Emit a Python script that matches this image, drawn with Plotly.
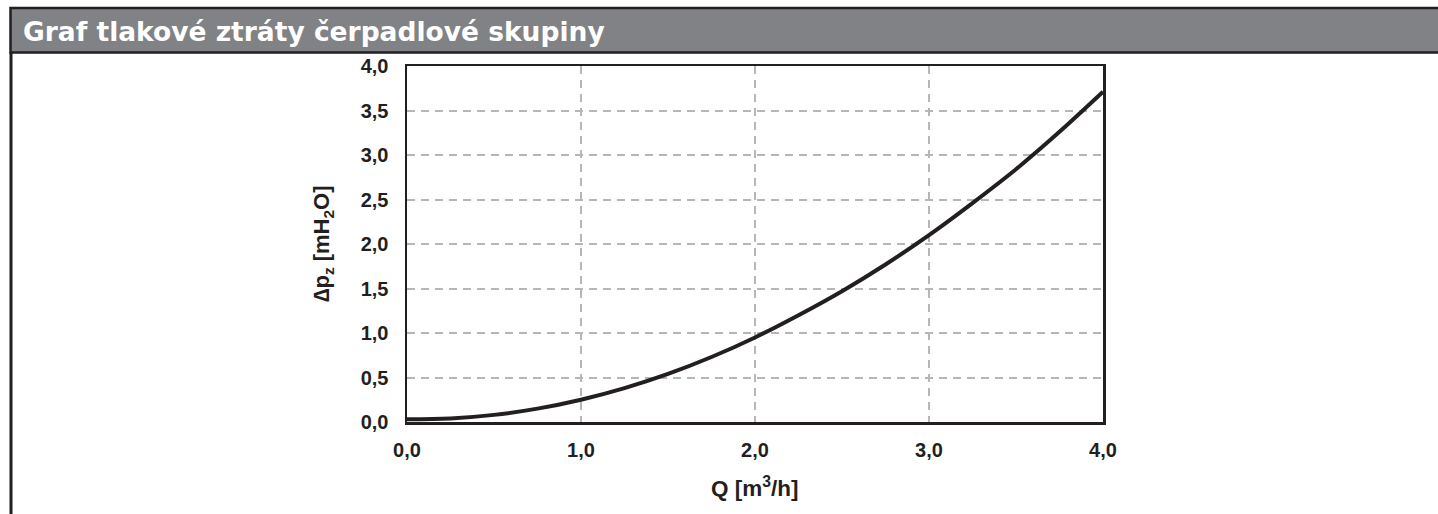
import plotly.graph_objects as go

# Data
flow_q = [0.0, 0.25, 0.5, 0.75, 1.0, 1.25, 1.5, 1.75, 2.0, 2.25, 2.5, 2.75, 3.0, 3.25, 3.5, 3.75, 4.0]
pressure_loss = [0.03, 0.04, 0.08, 0.15, 0.25, 0.38, 0.54, 0.73, 0.95, 1.20, 1.47, 1.77, 2.10, 2.46, 2.84, 3.26, 3.71]
x_ticks = [0.0, 1.0, 2.0, 3.0, 4.0]
y_ticks = [0.0, 0.5, 1.0, 1.5, 2.0, 2.5, 3.0, 3.5, 4.0]

title_text = "Graf tlakové ztráty čerpadlové skupiny"
x_title = "Q [m<sup>3</sup>/h]"
y_title = "∆p<sub>z</sub> [mH<sub>2</sub>O]"

W, H = 1438, 514
L, R, T, B = 407, 1103, 66, 422
pw, ph = R - L, B - T

def px(x):
    return (x - L) / pw

def py(y):
    return (B - y) / ph

dark = "#231f20"
grid = "#b5b6b9"
FONT = "Liberation Sans, Arial, sans-serif"

fig = go.Figure()
fig.add_trace(go.Scatter(
    x=flow_q, y=pressure_loss, mode="lines",
    line=dict(color=dark, width=4, shape="spline", smoothing=1.0),
    hoverinfo="skip", showlegend=False,
))

axis_common = dict(
    showline=True, linecolor=dark, linewidth=2.5, mirror=True,
    showgrid=True, gridcolor=grid, gridwidth=2, griddash="8px,6px",
    zeroline=False, ticks="",
    tickfont=dict(family=FONT, size=20, color=dark, weight="bold"),
    tickformat=".1f",
)

fig.update_xaxes(range=[0, 4], tickvals=x_ticks, ticklabelstandoff=8, **axis_common)
fig.update_yaxes(range=[0, 4], tickvals=y_ticks, ticklabelstandoff=12, **axis_common)

fig.update_layout(
    width=W, height=H,
    margin=dict(l=L, r=W - R, t=T, b=H - B),
    paper_bgcolor="white", plot_bgcolor="white",
    separators=", ",
    font=dict(family=FONT, color=dark),
    shapes=[
        # header band
        dict(type="rect", xref="paper", yref="paper",
             x0=px(10.5), x1=px(1445), y0=py(52.5), y1=py(8),
             fillcolor="#818285", line=dict(color=dark, width=2.5), layer="below"),
        # left border of frame
        dict(type="line", xref="paper", yref="paper",
             x0=px(11), x1=px(11), y0=py(52), y1=py(520),
             line=dict(color=dark, width=3)),
    ],
    annotations=[
        dict(text=f"<b>{title_text}</b>", xref="paper", yref="paper",
             x=px(21), y=py(31), xanchor="left", yanchor="middle", showarrow=False,
             font=dict(family="DejaVu Sans, sans-serif", size=26.5, color="white")),
        dict(text=f"<b>{x_title}</b>", xref="paper", yref="paper",
             x=0.5, y=py(487), xanchor="center", yanchor="middle", showarrow=False,
             font=dict(family=FONT, size=22.5, color=dark)),
        dict(text=f"<b>{y_title}</b>", xref="paper", yref="paper",
             x=px(323), y=0.5, xanchor="center", yanchor="middle", showarrow=False,
             textangle=-90, font=dict(family=FONT, size=22, color=dark)),
    ],
)

fig.write_html(
    "out.html",
    config={"displayModeBar": False, "staticPlot": True},
    post_script="document.body.style.margin='0px';document.body.style.overflow='hidden';",
)
